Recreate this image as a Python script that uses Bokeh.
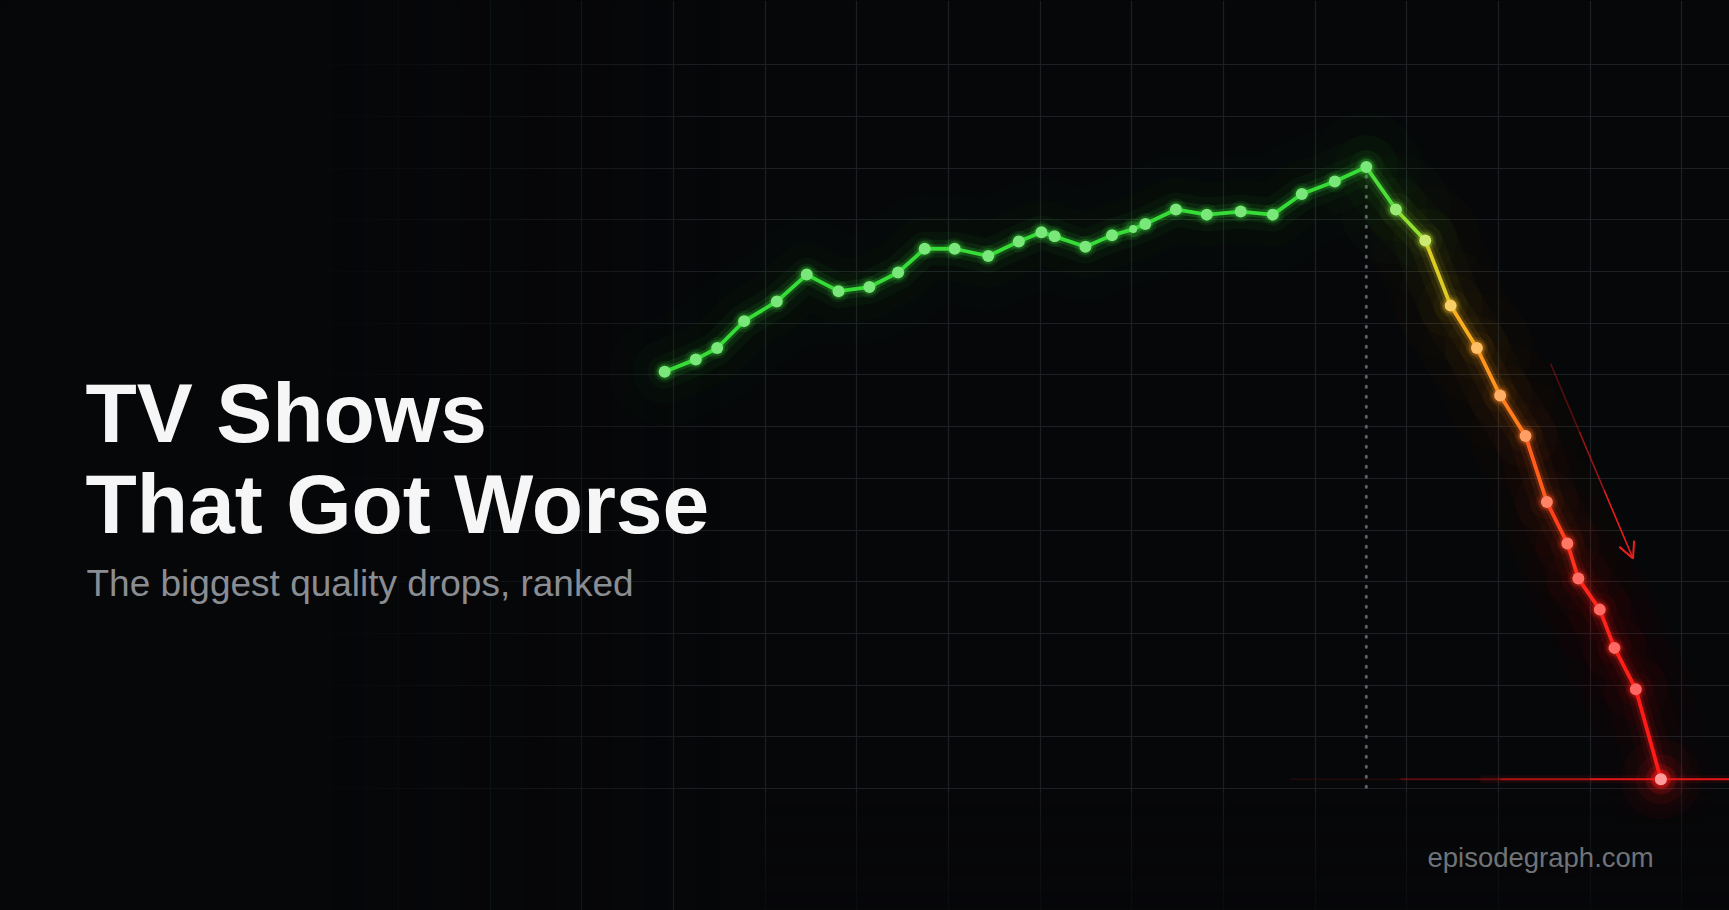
import numpy as np
from bokeh.plotting import figure
from bokeh.models import Range1d, Label, Arrow, OpenHead, FixedTicker, ColumnDataSource
from bokeh.embed import file_html
from bokeh.resources import INLINE

# ---------------- data ----------------
episode = [2.71, 3.73, 4.43, 5.31, 6.38, 7.36, 8.40, 9.41, 10.35, 11.22,
           12.20, 13.30, 14.30, 15.04, 15.47, 16.48, 17.35, 18.04, 18.44, 19.44,
           20.45, 21.56, 22.61, 23.56, 24.64, 25.67, 26.64, 27.60, 28.43, 29.29,
           30.05, 30.88, 31.58, 32.25, 32.61, 33.31, 33.79, 34.49, 35.31]
rating = [7.03, 7.15, 7.26, 7.52, 7.71, 7.97, 7.81, 7.85, 7.99, 8.22,
          8.22, 8.15, 8.29, 8.38, 8.34, 8.24, 8.35, 8.41, 8.46, 8.60,
          8.55, 8.58, 8.55, 8.75, 8.87, 9.01, 8.60, 8.30, 7.67, 7.26,
          6.80, 6.41, 5.77, 5.37, 5.03, 4.73, 4.36, 3.96, 3.09]
grid_x_values = [3.0 * k for k in range(-7, 14)]
grid_y_values = [3.0 + 0.5 * k for k in range(15)]

TITLE_1 = "TV Shows"
TITLE_2 = "That Got Worse"
SUBTITLE = "The biggest quality drops, ranked"
SITE = "episodegraph.com"

# ---------------- layout helpers ----------------
W, H = 1729, 910
PAGE = 0
X_REF_PX, X_REF, X_SCALE = 673.0, 3.0, 30.56
Y_REF_PX, Y_REF, Y_SCALE = 788.0, 3.0, 103.4
BASE_SHIFT = 0.375  # label baseline correction (fraction of font size)


def px_x(px):
    return X_REF + (px - X_REF_PX) / X_SCALE


def px_y(py):
    return Y_REF + (Y_REF_PX - py) / Y_SCALE


BG = "#060709"
GREEN = "#38dc38"

x_lo, x_hi = px_x(PAGE), px_x(PAGE + W)
y_lo, y_hi = px_y(PAGE + H), px_y(PAGE)

p = figure(width=W, height=H, x_range=Range1d(x_lo, x_hi), y_range=Range1d(y_lo, y_hi),
           output_backend="svg", toolbar_location=None,
           x_axis_location=None, y_axis_location=None, min_border=0,
           background_fill_color=BG, border_fill_color=BG, outline_line_color=None)

try:
    from bokeh.models import GlobalInlineStyleSheet
    p.stylesheets = [GlobalInlineStyleSheet(css="html,body{background:#060709;}")]
except Exception:
    pass

p.xgrid.ticker = FixedTicker(ticks=grid_x_values)
p.ygrid.ticker = FixedTicker(ticks=grid_y_values)
p.xgrid.grid_line_color = "#1c1f23"
p.ygrid.grid_line_color = "#1c1f23"
p.xgrid.grid_line_width = 1.2
p.ygrid.grid_line_width = 1.2
p.ygrid.bounds = (grid_y_values[0], grid_y_values[-1])


# ---------------- vignette overlays (left fade, bottom fade) ----------------
def rgba_strip(alphas, horizontal=True):
    n = len(alphas)
    if horizontal:
        img = np.zeros((2, n), dtype=np.uint32)
        v = img.view(dtype=np.uint8).reshape((2, n, 4))
        v[:, :, 3] = (np.array(alphas)[None, :] * 255).astype(np.uint8)
    else:
        img = np.zeros((n, 2), dtype=np.uint32)
        v = img.view(dtype=np.uint8).reshape((n, 2, 4))
        v[:, :, 3] = (np.array(alphas)[:, None] * 255).astype(np.uint8)
    v[..., 0], v[..., 1], v[..., 2] = 6, 7, 9
    return img


left_end_px = 760.0
cols = np.linspace(PAGE, left_end_px, 240)
la = np.clip((720.0 - cols) / (720.0 - 300.0), 0, 1) ** 0.9
p.image_rgba(image=[rgba_strip(la)], x=x_lo, y=y_lo, dw=px_x(left_end_px) - x_lo, dh=y_hi - y_lo)

rows_px = np.linspace(PAGE + H, 792.0, 60)  # bottom to top
ba = np.clip((rows_px - 792.0) / (PAGE + H - 792.0), 0, 1) * 0.55 + 0.25
p.image_rgba(image=[rgba_strip(ba, horizontal=False)], x=px_x(760), y=y_lo,
             dw=x_hi - px_x(760), dh=px_y(792.0) - y_lo)

# ---------------- colours along the drop ----------------
stops = [(0.00, (0x3a, 0xdc, 0x3a)), (0.06, (0x5e, 0xe0, 0x38)), (0.12, (0xb4, 0xe0, 0x2e)),
         (0.20, (0xf2, 0xc0, 0x20)), (0.30, (0xff, 0xa0, 0x1e)), (0.42, (0xff, 0x78, 0x1c)),
         (0.55, (0xff, 0x48, 0x1c)), (0.68, (0xff, 0x26, 0x1c)), (1.00, (0xff, 0x16, 0x16))]


def color_at(t):
    t = float(np.clip(t, 0, 1))
    for (t0, c0), (t1, c1) in zip(stops[:-1], stops[1:]):
        if t <= t1:
            f = (t - t0) / (t1 - t0) if t1 > t0 else 0
            return tuple(int(round(a + (b - a) * f)) for a, b in zip(c0, c1))
    return stops[-1][1]


def hexc(c):
    return "#%02x%02x%02x" % c


def lighten(c, f):
    return tuple(int(round(a + (255 - a) * f)) for a in c)


r = np.array(rating)
e = np.array(episode)
ipk = int(np.argmax(r))
peak, low = r[ipk], r.min()
tpt = np.where(np.arange(len(r)) > ipk, (peak - r) / (peak - low), 0.0)

pt_rgb = [color_at(t) for t in tpt]
dot_cols = [hexc(lighten(c, 0.32)) for c in pt_rgb]
seg_cols = [hexc(color_at((tpt[i] + tpt[i + 1]) / 2)) for i in range(ipk, len(r) - 1)]

seg_src = ColumnDataSource(dict(x0=e[ipk:-1], y0=r[ipk:-1], x1=e[ipk + 1:], y1=r[ipk + 1:], c=seg_cols))

# ---------------- peak marker (dotted drop line) ----------------
p.segment(x0=[e[ipk]], y0=[r[ipk] - 0.09], x1=[e[ipk]], y1=[grid_y_values[0]],
          line_color="#5c6066", line_width=3, line_dash="1 9", line_cap="round")

# ---------------- floor line at the final value ----------------
for start_px, alpha, width in [(1290, 0.10, 2), (1400, 0.25, 2), (1500, 0.45, 2), (1590, 0.7, 1.6),
                               (1480, 0.08, 8)]:
    p.segment(x0=[px_x(start_px)], y0=[r[-1]], x1=[x_hi], y1=[r[-1]],
              line_color="#ff1a1a", line_alpha=alpha, line_width=width)

# ---------------- glow ----------------
for w, a in [(110, 0.014), (64, 0.025), (34, 0.045), (18, 0.09), (9, 0.2)]:
    p.line(e[:ipk + 1], r[:ipk + 1], line_color=GREEN, line_width=w, line_alpha=a,
           line_join="round", line_cap="round")
    p.segment(x0="x0", y0="y0", x1="x1", y1="y1", source=seg_src, line_color="c",
              line_width=w, line_alpha=a * 0.9, line_cap="round")

# ---------------- main line ----------------
p.line(e[:ipk + 1], r[:ipk + 1], line_color=GREEN, line_width=3.8, line_join="round", line_cap="round")
p.segment(x0="x0", y0="y0", x1="x1", y1="y1", source=seg_src, line_color="c",
          line_width=3.8, line_cap="round")

# ---------------- dots ----------------
dot_src = ColumnDataSource(dict(x=e, y=r, c=[hexc(c) for c in pt_rgb], dc=dot_cols,
                                s=[8 if i == 17 else 12 for i in range(len(r))]))
p.scatter("x", "y", source=dot_src, size=22, fill_color="c", fill_alpha=0.09, line_color=None)
p.scatter("x", "y", source=dot_src, size=16, fill_color="c", fill_alpha=0.2, line_color=None)
p.scatter("x", "y", source=dot_src, size="s", fill_color="dc", line_color=None)

# final point glow
for s, a in [(80, 0.035), (50, 0.07), (30, 0.16), (20, 0.3)]:
    p.scatter([e[-1]], [r[-1]], size=s, fill_color="#ff1a1a", fill_alpha=a, line_color=None)
p.scatter([e[-1]], [r[-1]], size=12, fill_color="#ff9a9a", line_color=None)

# ---------------- arrow ----------------
ax0, ay0 = px_x(1550), px_y(363)
ax1, ay1 = px_x(1632.5), px_y(558)
for f0, f1, a in [(0.0, 0.35, 0.35), (0.35, 0.65, 0.65), (0.65, 1.0, 1.0)]:
    p.segment(x0=[ax0 + (ax1 - ax0) * f0], y0=[ay0 + (ay1 - ay0) * f0],
              x1=[ax0 + (ax1 - ax0) * f1], y1=[ay0 + (ay1 - ay0) * f1],
              line_color="#e81c1c", line_alpha=a, line_width=1.6)
p.add_layout(Arrow(end=OpenHead(size=16, line_color="#ee1e1e", line_width=2),
                   x_start=ax0 + (ax1 - ax0) * 0.9, y_start=ay0 + (ay1 - ay0) * 0.9,
                   x_end=ax1, y_end=ay1, line_alpha=0))


# ---------------- texts ----------------
def add_text(txt, left_px, base_px, size, color, bold=False):
    p.add_layout(Label(x=px_x(left_px), y=px_y(base_px - BASE_SHIFT * size), text=txt,
                       text_font="Liberation Sans", text_font_style="bold" if bold else "normal",
                       text_font_size="%gpx" % size, text_color=color,
                       text_baseline="alphabetic", text_align="left"))


add_text(TITLE_1, 85, 444, 84, "#f6f6f6", bold=True)
add_text(TITLE_2, 85, 535, 84, "#f6f6f6", bold=True)
add_text(SUBTITLE, 86, 597, 37, "#8a8d92")
add_text(SITE, 1427, 867, 27.5, "#707378")

open("out.html", "w").write(file_html(p, INLINE))
